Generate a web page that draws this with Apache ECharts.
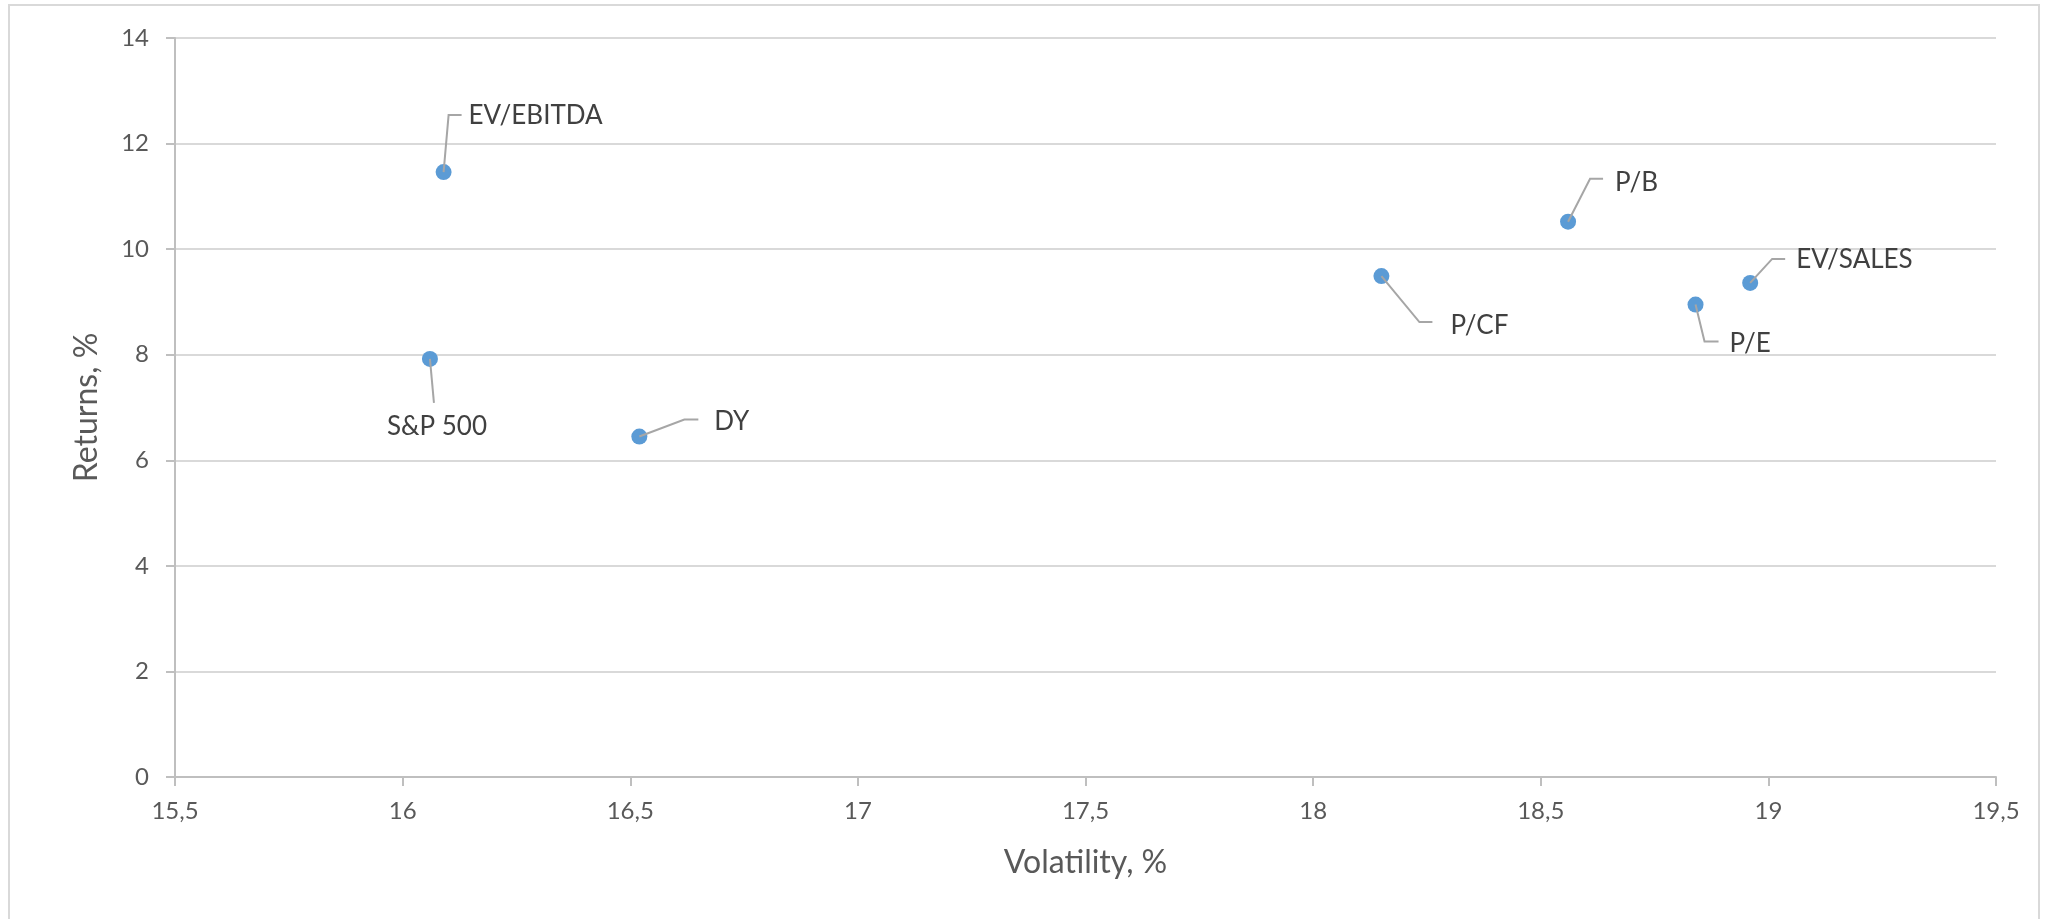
<!DOCTYPE html>
<html>
<head>
<meta charset="utf-8">
<title>Returns vs Volatility</title>
<script src="https://cdn.jsdelivr.net/npm/echarts@6/dist/echarts.min.js"></script>
<style>
  html, body { margin: 0; padding: 0; background: #ffffff; }
  #chart { width: 2051px; height: 919px; }
</style>
</head>
<body>
<div id="chart"></div>
<script>
// Portfolio names, annualised volatility (%) and returns (%)
const names = ['EV/EBITDA', 'S&P 500', 'DY', 'P/B', 'P/CF', 'EV/SALES', 'P/E'];
const volatility = [16.09, 16.06, 16.52, 18.56, 18.15, 18.96, 18.84];
const returns = [11.46, 7.92, 6.45, 10.52, 9.49, 9.36, 8.95];

// Axis ranges and tick steps
const xAxisRange = [15.5, 19.5];
const xStep = 0.5;
const yAxisRange = [0, 14];
const yStep = 2;

// Pixel offsets of each callout (leader-line bend, line end, text anchor) from its point
const calloutOffsets = {
  'EV/EBITDA': { bend: [5, -57], end: [18, -57], text: [25, -56], align: 'left' },
  'S&P 500':   { bend: null,     end: [4, 44],   text: [7, 68],   align: 'center' },
  'DY':        { bend: [45, -17], end: [59, -17], text: [75, -15], align: 'left' },
  'P/B':       { bend: [22, -43], end: [35, -43], text: [47, -39], align: 'left' },
  'P/CF':      { bend: [38, 46], end: [51, 46],  text: [69, 50],  align: 'left' },
  'EV/SALES':  { bend: [22, -24], end: [35, -24], text: [46, -23], align: 'left' },
  'P/E':       { bend: [9, 37],  end: [23, 37],  text: [34, 39],  align: 'left' }
};

const points = names.map((n, i) => [volatility[i], returns[i]]);
const commaDecimal = v => String(+v.toFixed(2)).replace('.', ',');

const FONT = 'Lato, "Open Sans", "Liberation Sans", sans-serif';

const chart = echarts.init(document.getElementById('chart'), null, { renderer: 'canvas' });

chart.setOption({
  animation: false,
  backgroundColor: '#ffffff',
  textStyle: { fontFamily: FONT },
  graphic: [{
    type: 'rect',
    silent: true,
    shape: { x: 9, y: 5, width: 2030, height: 1000 },
    style: { fill: 'none', stroke: '#d9d9d9', lineWidth: 2 }
  }],
  grid: { left: 175, top: 38, right: 55, bottom: 142, containLabel: false },
  xAxis: {
    type: 'value',
    min: xAxisRange[0],
    max: xAxisRange[1],
    interval: xStep,
    name: 'Volatility, %',
    nameLocation: 'middle',
    nameGap: 70,
    nameTextStyle: { fontFamily: FONT, fontSize: 32, color: '#595959' },
    axisLine: { show: true, onZero: false, lineStyle: { color: '#bfbfbf', width: 2 } },
    axisTick: { show: true, inside: false, length: 9, lineStyle: { color: '#bfbfbf', width: 2 } },
    axisLabel: {
      fontFamily: FONT, fontSize: 24, color: '#595959', margin: 22,
      formatter: commaDecimal
    },
    splitLine: { show: false }
  },
  yAxis: {
    type: 'value',
    min: yAxisRange[0],
    max: yAxisRange[1],
    interval: yStep,
    name: 'Returns, %',
    nameLocation: 'middle',
    nameGap: 72,
    nameTextStyle: { fontFamily: FONT, fontSize: 32, color: '#595959' },
    axisLine: { show: true, lineStyle: { color: '#bfbfbf', width: 2 } },
    axisTick: { show: true, inside: false, length: 9, lineStyle: { color: '#bfbfbf', width: 2 } },
    axisLabel: {
      fontFamily: FONT, fontSize: 24, color: '#595959', margin: 26,
      formatter: commaDecimal
    },
    splitLine: { show: true, lineStyle: { color: '#d9d9d9', width: 2 } }
  },
  series: [
    {
      type: 'scatter',
      data: points,
      symbol: 'circle',
      symbolSize: 16,
      itemStyle: { color: '#5b9bd5', opacity: 1 },
      z: 2
    },
    {
      // Callout labels with elbow leader lines
      type: 'custom',
      data: points,
      z: 3,
      silent: true,
      renderItem: function (params, api) {
        const name = names[params.dataIndex];
        const off = calloutOffsets[name];
        const c = api.coord([api.value(0), api.value(1)]);
        const pts = [[c[0], c[1]]];
        if (off.bend) pts.push([c[0] + off.bend[0], c[1] + off.bend[1]]);
        pts.push([c[0] + off.end[0], c[1] + off.end[1]]);
        return {
          type: 'group',
          children: [
            {
              type: 'polyline',
              shape: { points: pts },
              style: { stroke: '#a6a6a6', lineWidth: 2, fill: null }
            },
            {
              type: 'text',
              x: c[0] + off.text[0],
              y: c[1] + off.text[1],
              style: {
                text: name,
                fontFamily: FONT,
                fontSize: 26,
                fill: '#404040',
                align: off.align,
                verticalAlign: 'middle'
              }
            }
          ]
        };
      }
    }
  ]
});
</script>
</body>
</html>
